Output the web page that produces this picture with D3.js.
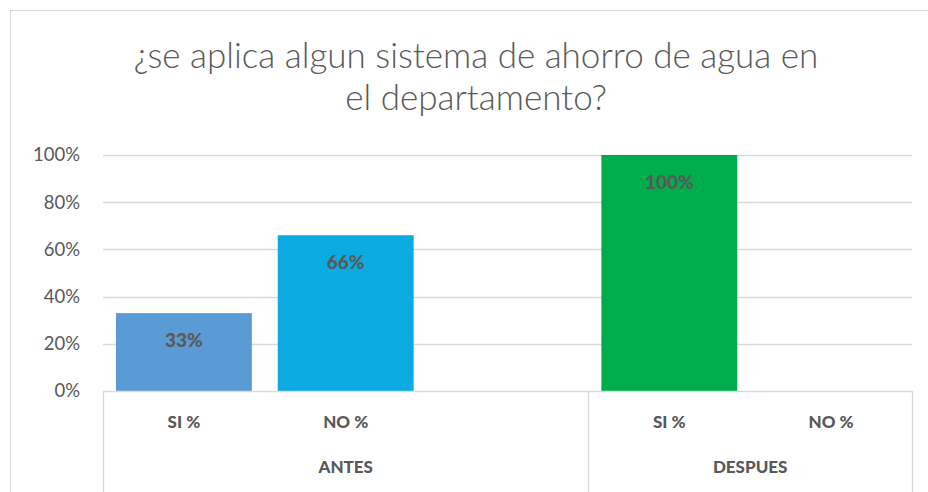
<!DOCTYPE html>
<html>
<head>
<meta charset="utf-8">
<script src="https://cdn.jsdelivr.net/npm/d3@7"></script>
<style>
  body { margin: 0; background: #fff; }
  svg { display: block; font-family: Lato, "Open Sans", sans-serif; }
</style>
</head>
<body>
<div id="chart"></div>
<script>
// data
var titleLines = ["¿se aplica algun sistema de ahorro de agua en", "el departamento?"];
var groups = ["ANTES", "DESPUES"];
var groupCategories = [["SI %", "NO %", ""], ["SI %", "NO %"]];
var groupValues = [[0.33, 0.66, null], [1.00, null]];
var barColors = [["#5B9BD5", "#0BAAE0", "#5B9BD5"], ["#00AD4C", "#0BAAE0"]];
var yTicks = [0, 0.2, 0.4, 0.6, 0.8, 1.0];

var w = 928, h = 492,
    plotLeft = 103, plotRight = 912, plotTop = 155, plotBottom = 391;

var rows = [];
groups.forEach(function(g, gi) {
  groupCategories[gi].forEach(function(c, ci) {
    rows.push({ group: g, cat: c, key: g + "|" + ci, value: groupValues[gi][ci], color: barColors[gi][ci] });
  });
});

var svg = d3.select("#chart").append("svg").attr("width", w).attr("height", h);

// chart border
svg.append("rect")
    .attr("x", 10.5).attr("y", 10.5)
    .attr("width", 940).attr("height", 500)
    .attr("fill", "#fff").attr("stroke", "#D9D9D9").attr("stroke-width", 1);

var xScale = d3.scaleBand()
    .domain(rows.map(function(d) { return d.key; }))
    .range([plotLeft, plotRight])
    .paddingInner(0.16)
    .paddingOuter(0.08);
var yScale = d3.scaleLinear().domain([0, 1]).range([plotBottom, plotTop]);

var step = xScale.step();
var slotStart = function(key) { return xScale(key) - step * xScale.paddingInner() / 2; };

// title
svg.append("g").selectAll("text")
    .data(titleLines)
    .enter().append("text")
    .attr("x", 476)
    .attr("y", function(d, i) { return 68 + i * 42; })
    .attr("text-anchor", "middle")
    .attr("font-size", 35)
    .attr("font-weight", 300)
    .attr("fill", "#595959")
    .text(function(d) { return d; });

// gridlines
svg.append("g").selectAll("line")
    .data(yTicks.slice(1))
    .enter().append("line")
    .attr("x1", plotLeft).attr("x2", plotRight)
    .attr("y1", function(d) { return Math.round(yScale(d)) + 0.5; })
    .attr("y2", function(d) { return Math.round(yScale(d)) + 0.5; })
    .attr("stroke", "#D9D9D9").attr("stroke-width", 1.3);

// y axis labels
var yAxis = d3.axisLeft(yScale).tickValues(yTicks).tickFormat(d3.format(".0%")).tickSize(0).tickPadding(23);
var yG = svg.append("g").attr("transform", "translate(" + plotLeft + ",0)").call(yAxis);
yG.select(".domain").remove();
yG.selectAll("text").attr("font-size", 18.5).attr("fill", "#595959").attr("font-family", "Lato, sans-serif");

// bars
var bars = rows.filter(function(d) { return d.value != null; });
svg.append("g").selectAll("rect")
    .data(bars)
    .enter().append("rect")
    .attr("x", function(d) { return xScale(d.key); })
    .attr("y", function(d) { return yScale(d.value); })
    .attr("width", xScale.bandwidth())
    .attr("height", function(d) { return plotBottom - yScale(d.value); })
    .attr("fill", function(d) { return d.color; });

// data labels
svg.append("g").selectAll("text")
    .data(bars)
    .enter().append("text")
    .attr("x", function(d) { return xScale(d.key) + xScale.bandwidth() / 2; })
    .attr("y", function(d) { return yScale(d.value) + 34; })
    .attr("text-anchor", "middle")
    .attr("font-size", 19)
    .attr("font-weight", 900)
    .attr("fill", "#595959")
    .text(function(d) { return d3.format(".0%")(d.value); });

// category axis
var axisG = svg.append("g").attr("stroke", "#D9D9D9").attr("stroke-width", 1.3);
axisG.append("line")
    .attr("x1", plotLeft).attr("x2", plotRight)
    .attr("y1", plotBottom + 0.5).attr("y2", plotBottom + 0.5);

var groupBounds = groups.map(function(g, gi) {
  var keys = rows.filter(function(d) { return d.group === g; }).map(function(d) { return d.key; });
  return { name: g, x0: slotStart(keys[0]), x1: slotStart(keys[keys.length - 1]) + step };
});
var dividers = [plotLeft].concat(groupBounds.map(function(b) { return b.x1; }));
axisG.selectAll("line.div")
    .data(dividers)
    .enter().append("line")
    .attr("class", "div")
    .attr("x1", function(d) { return Math.round(d) + 0.5; })
    .attr("x2", function(d) { return Math.round(d) + 0.5; })
    .attr("y1", plotBottom).attr("y2", h);

svg.append("g").selectAll("text")
    .data(rows.filter(function(d) { return d.cat !== ""; }))
    .enter().append("text")
    .attr("x", function(d) { return xScale(d.key) + xScale.bandwidth() / 2; })
    .attr("y", 428)
    .attr("text-anchor", "middle")
    .attr("font-size", 17)
    .attr("font-weight", 900)
    .attr("fill", "#595959")
    .text(function(d) { return d.cat; });

svg.append("g").selectAll("text")
    .data(groupBounds)
    .enter().append("text")
    .attr("x", function(d) { return (d.x0 + d.x1) / 2; })
    .attr("y", 473)
    .attr("text-anchor", "middle")
    .attr("font-size", 17)
    .attr("font-weight", 900)
    .attr("fill", "#595959")
    .text(function(d) { return d.name; });
</script>
</body>
</html>
